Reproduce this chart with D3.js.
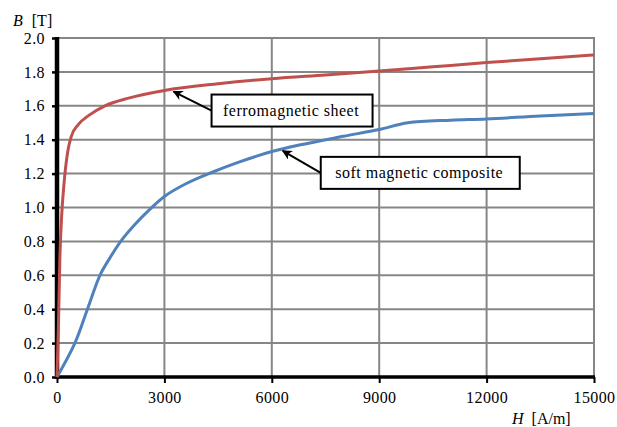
<!DOCTYPE html>
<html>
<head>
<meta charset="utf-8">
<script src="https://cdn.jsdelivr.net/npm/d3@7"></script>
</head>
<body style="margin:0; background:#fff">
<svg class="canvas"></svg>
<script>
/*
	B-H magnetization curves
*/

var dwidth = 617;
var dheight = 427;

// data, H [A/m] and B [T]
var sheetH = [0, 40, 80, 130, 200, 300, 400, 600, 900, 1340, 2000, 3000, 4500, 6000, 7500, 9000, 10500, 12000, 13500, 15000];
var sheetB = [0, 0.3, 0.7, 0.95, 1.15, 1.33, 1.42, 1.49, 1.545, 1.6, 1.645, 1.69, 1.73, 1.76, 1.782, 1.805, 1.83, 1.855, 1.878, 1.9];
var smcH = [0, 500, 850, 1200, 1470, 1780, 2200, 2600, 3000, 3600, 4300, 5000, 6000, 6800, 8000, 9000, 9800, 11000, 12000, 13500, 15000];
var smcB = [0, 0.2, 0.4, 0.6, 0.7, 0.8, 0.905, 0.99, 1.065, 1.14, 1.205, 1.262, 1.33, 1.37, 1.42, 1.46, 1.50, 1.515, 1.522, 1.54, 1.555];
var xTicks = [0, 3000, 6000, 9000, 12000, 15000];
var yTicks = [0, 0.2, 0.4, 0.6, 0.8, 1.0, 1.2, 1.4, 1.6, 1.8, 2.0];
var labels = ["ferromagnetic sheet", "soft magnetic composite"];
// where the arrows point, in data units
var labelH = [3200, 6250];
var labelB = [1.69, 1.34];

var serif = "Liberation Serif";
var canv = d3.select(".canvas").attr("width", dwidth).attr("height", dheight);

//Scales
var sx = d3.scaleLinear().domain([0, 15000]).range([57, 594]);
var sy = d3.scaleLinear().domain([0, 2]).range([377, 38]);

var red = "#c0504d", blue = "#4f81bd", grid = "#868686";

//Grid
canv.append("g").selectAll("line").data(yTicks.slice(1)).enter().append("line")
	.attr("x1", sx(0)).attr("x2", sx(15000))
	.attr("y1", function(d) { return sy(d); }).attr("y2", function(d) { return sy(d); })
	.style("stroke", grid).style("stroke-width", 2);
canv.append("g").selectAll("line").data(xTicks.slice(1)).enter().append("line")
	.attr("x1", function(d) { return sx(d); }).attr("x2", function(d) { return sx(d); })
	.attr("y1", sy(0)).attr("y2", sy(2) - 1)
	.style("stroke", grid).style("stroke-width", 2);

//Axes
var xAxis = d3.axisBottom(sx).tickValues(xTicks).tickSize(6).tickPadding(9).tickFormat(d3.format("d"));
var gx = canv.append("g").attr("transform", "translate(0," + sy(0) + ")").call(xAxis);
gx.select(".domain").attr("d", "M" + (sx(0) - 2) + ",0H" + (sx(15000) + 1)).style("stroke", "#000").style("stroke-width", 3.5);
gx.selectAll(".tick line").style("stroke", "#000").style("stroke-width", 2);
gx.selectAll(".tick text").attr("font-family", serif).attr("font-size", 16).attr("letter-spacing", 0.4);

var yAxis = d3.axisLeft(sy).tickValues(yTicks).tickSize(5).tickPadding(7).tickFormat(d3.format(".1f"));
var gy = canv.append("g").attr("transform", "translate(" + sx(0) + ",0)").call(yAxis);
gy.select(".domain").attr("d", "M0," + (sy(2) - 1) + "V" + (sy(0) + 2)).style("stroke", "#000").style("stroke-width", 4.5);
gy.selectAll(".tick line").style("stroke", "#000").style("stroke-width", 2.5);
gy.selectAll(".tick text").attr("font-family", serif).attr("font-size", 16).attr("letter-spacing", 0.4);

//Curves
var line = d3.line()
	.x(function(d) { return sx(d[0]); })
	.y(function(d) { return sy(d[1]); });
canv.append("path").datum(d3.zip(smcH, smcB)).attr("d", line.curve(d3.curveCatmullRom.alpha(0.5)))
	.style("fill", "none").style("stroke", blue).style("stroke-width", 3);
canv.append("path").datum(d3.zip(sheetH, sheetB)).attr("d", line.curve(d3.curveMonotoneX))
	.style("fill", "none").style("stroke", red).style("stroke-width", 3);

//Annotations
canv.append("defs").append("marker")
	.attr("id", "arr").attr("viewBox", "0 0 10 10").attr("refX", 9).attr("refY", 5)
	.attr("markerWidth", 10).attr("markerHeight", 10).attr("markerUnits", "userSpaceOnUse")
	.attr("orient", "auto")
	.append("path").attr("d", "M0,0L10,5L0,10L3,5Z").style("fill", "#000");

var boxOff = [[40, 4, 161], [40, 7, 199]]; // dx to box, dy of box top below tip, box width
labels.forEach(function(t, i) {
	var tx = sx(labelH[i]), ty = sy(labelB[i]);
	var bx = tx + boxOff[i][0], by = ty + boxOff[i][1], bw = boxOff[i][2], bh = 32;
	canv.append("line")
		.attr("x1", bx).attr("y1", by + bh / 2)
		.attr("x2", tx + 2).attr("y2", ty + 1)
		.style("stroke", "#000").style("stroke-width", 2)
		.attr("marker-end", "url(#arr)");
	canv.append("rect").attr("x", bx).attr("y", by).attr("width", bw).attr("height", bh)
		.style("fill", "#fff").style("stroke", "#000").style("stroke-width", 2);
	canv.append("text").attr("x", bx + bw / 2 - 1).attr("y", by + bh / 2 + 5)
		.attr("font-family", serif).attr("text-anchor", "middle").attr("font-size", 16)
		.attr("letter-spacing", 0.5).text(t);
});

//Axis titles
var yt = canv.append("text").attr("x", 13).attr("y", 26)
	.attr("font-family", serif).attr("font-size", 16);
yt.append("tspan").attr("font-family", serif).attr("font-style", "italic").text("B");
yt.append("tspan").attr("font-family", serif).attr("dx", 9).text("[T]");
var xt = canv.append("text").attr("x", 512).attr("y", 424)
	.attr("font-family", serif).attr("font-size", 16);
xt.append("tspan").attr("font-family", serif).attr("font-style", "italic").text("H");
xt.append("tspan").attr("font-family", serif).attr("dx", 8).text("[A/m]");
</script>
</body>
</html>
